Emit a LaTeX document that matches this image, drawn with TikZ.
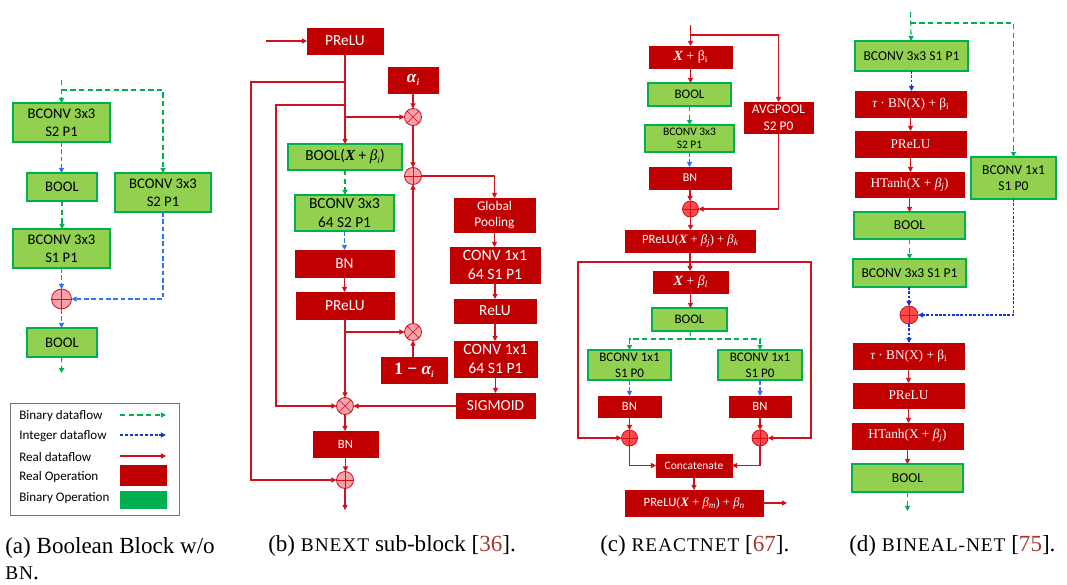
\documentclass[tikz,border=0pt]{standalone}
\usepackage{fontspec}
\newfontfamily\cf{Carlito}
\newfontfamily\capf{Liberation Serif}
\usetikzlibrary{arrows.meta}
\definecolor{rfill}{HTML}{C00000}
\definecolor{rline}{HTML}{D0101C}
\definecolor{gfill}{HTML}{92D050}
\definecolor{gcol}{HTML}{00B050}
\definecolor{bline}{HTML}{2F74EE}
\definecolor{bdark}{HTML}{1438D0}
\definecolor{pinkc}{HTML}{F7A1A8}
\definecolor{redc}{HTML}{FF4A4A}
\definecolor{citec}{HTML}{A33A2E}
\newcommand\mysc[1]{{\fontsize{14.5}{15}\selectfont\addfontfeature{LetterSpace=5}#1}}
\newcommand\bX{{\capf\bfseries\itshape X}}
\newcommand\sbs[1]{\raisebox{-0.35ex}{\fontsize{7}{8}\selectfont #1}}
\newcommand\bx[7]{\node[#2, minimum width={(#5-(#3))*0.75pt}, minimum height={(#6-(#4))*0.75pt}] (#1) at ({(#3+#5)/2},{(#4+#6)/2}) {#7};}
\newcommand\vcon[3]{\draw[#1] (#2.south) -- (#2.south |- #3.north);}
\tikzset{
 box/.style={rectangle, inner sep=0pt, outer sep=0pt, align=center},
 rbox/.style={box, fill=rfill, draw=rfill, line width=0.5pt, text=white},
 gbox/.style={box, fill=gfill, draw=gcol, line width=1pt, text=black},
 gboxt/.style={gbox, line width=1.6pt},
 tip/.style={-{Triangle[length=3.8pt,width=3.8pt]}},
 rarr/.style={tip, draw=rline, line width=0.8pt},
 garr/.style={tip, draw=gcol, line width=0.8pt, dash pattern=on 4pt off 2.5pt},
 gdash/.style={draw=gcol, line width=0.8pt, dash pattern=on 4pt off 2.5pt},
 barr/.style={tip, draw=bline, line width=0.8pt, dash pattern=on 3.5pt off 2pt},
 bdarr/.style={tip, draw=bdark, line width=0.8pt, dash pattern=on 2pt off 1.2pt},
 pc/.style={circle, inner sep=0pt, outer sep=0pt, draw=rline, line width=0.6pt, minimum size=#1},
 plusc/.style={pc=#1, path picture={\draw[rline,line width=0.5pt] (path picture bounding box.north)--(path picture bounding box.south) (path picture bounding box.west)--(path picture bounding box.east);}},
 timesc/.style={pc=#1, path picture={\draw[rline,line width=0.5pt] (path picture bounding box.north west)--(path picture bounding box.south east) (path picture bounding box.south west)--(path picture bounding box.north east);}},
 fa/.style={font=\cf\fontsize{11}{13.5}\selectfont},
 fb/.style={font=\cf\fontsize{11.5}{13.7}\selectfont},
 fbl/.style={font=\cf\fontsize{11.8}{13.7}\selectfont},
 fbs/.style={font=\cf\fontsize{10}{12}\selectfont},
 fbn/.style={font=\cf\fontsize{9.5}{11}\selectfont},
 fal/.style={font=\capf\bfseries\fontsize{13}{14}\selectfont},
 fc/.style={font=\cf\fontsize{9.8}{12}\selectfont},
 fcs/.style={font=\cf\fontsize{8.6}{9.6}\selectfont},
 fcbn/.style={font=\cf\fontsize{9}{11}\selectfont},
 fcx/.style={font=\capf\fontsize{10.5}{12}\selectfont},
 fcav/.style={font=\cf\fontsize{10}{12.5}\selectfont},
 fcp/.style={font=\cf\fontsize{9.5}{11}\selectfont},
 fcc/.style={font=\cf\fontsize{8.6}{10}\selectfont},
 fd/.style={font=\cf\fontsize{10.2}{12.5}\selectfont},
 fds/.style={font=\capf\fontsize{10}{11}\selectfont},
 legt/.style={anchor=west, inner sep=0pt, font=\cf\fontsize{9.8}{11}\selectfont},
 capt/.style={anchor=base west, inner sep=0pt, font=\capf\fontsize{17.3}{20}\selectfont},
}
\begin{document}
\begin{tikzpicture}[x=0.75pt,y=-0.75pt]
\useasboundingbox (0,0) rectangle (1067,585);
% ---------------- (a)
\bx{a1}{gbox,fa}{13}{103}{110}{142}{BCONV 3x3\\S2 P1}
\bx{a2}{gbox,fa}{27}{173}{97}{201}{BOOL}
\bx{a3}{gbox,fa}{13}{229}{110}{268}{BCONV 3x3\\S1 P1}
\bx{a4}{gbox,fa}{115}{173}{211}{212}{BCONV 3x3\\S2 P1}
\node[plusc=15pt, fill=pinkc] (ap) at (61.5,299) {};
\bx{a5}{gbox,fa}{27}{328}{97}{357}{BOOL}
\coordinate (ain) at (61.5,80);
\coordinate (aj) at (61.5,90);
\coordinate (aout) at (61.5,373);
\draw[garr] (ain) -- (a1);
\draw[garr] (aj) -| (a4);
\vcon{barr}{a1}{a2}
\vcon{garr}{a2}{a3}
\vcon{barr}{a3}{ap}
\draw[barr] (a4) |- (ap);
\vcon{barr}{ap}{a5}
\draw[garr] (a5) -- (aout);
% legend
\bx{leg}{box, draw=black!55, line width=0.6pt}{10}{403}{179}{515}{}
\node[legt] (lt1) at (19,416) {Binary dataflow};
\node[legt] (lt2) at (19,436) {Integer dataflow};
\node[legt] (lt3) at (19,457) {Real dataflow};
\node[legt] (lt4) at (19,477) {Real Operation};
\node[legt] (lt5) at (19,498) {Binary Operation};
\coordinate (l1a) at (120,415); \coordinate (l1b) at (166,415);
\coordinate (l2a) at (120,435); \coordinate (l2b) at (166,435);
\coordinate (l3a) at (120,456); \coordinate (l3b) at (166,456);
\draw[tip, draw=gcol, line width=0.8pt, dash pattern=on 4pt off 2.5pt] (l1a) -- (l1b);
\draw[tip, draw=bdark, line width=0.8pt, dash pattern=on 2.5pt off 1.2pt] (l2a) -- (l2b);
\draw[rarr] (l3a) -- (l3b);
\bx{lr}{box, fill=rfill}{120}{465}{167}{486}{}
\bx{lg}{box, fill=gcol}{120}{491}{167}{509}{}
\node[capt] (capa) at (5,553) {(a) Boolean Block w/o};
\node[capt] (capa2) at (5,579) {\mysc{BN}.};
% ---------------- (b)
\bx{b1}{rbox,fb}{307}{28}{383}{54}{PReLU}
\bx{balpha}{rbox,fal}{388}{67}{438}{93}{\itshape α\sbs{i}}
\bx{b2}{gboxt,fb}{288}{144}{402}{170}{BOOL({\bX} + {\capf\itshape β\sbs{i}})}
\bx{b3}{gboxt,fb}{295}{195}{394}{231}{BCONV 3x3\\64 S2 P1}
\bx{b4}{rbox,fb}{295}{250}{394}{277}{BN}
\bx{b5}{rbox,fb}{296}{292}{394}{319}{PReLU}
\bx{b1ma}{rbox,fal}{381}{357}{447}{383}{1 − {\itshape α\sbs{i}}}
\bx{bgp}{rbox,fbs}{454}{198}{535}{232}{Global\\Pooling}
\bx{bc1}{rbox,fbl}{450}{247}{540}{283}{CONV 1x1\\64 S1 P1}
\bx{brelu}{rbox,fb}{454}{299}{536}{323}{ReLU}
\bx{bc2}{rbox,fbl}{454}{341}{537}{377}{CONV 1x1\\64 S1 P1}
\bx{bsig}{rbox,fb}{456}{393}{535}{418}{SIGMOID}
\bx{bbn}{rbox,fbn}{313}{431}{378}{457}{BN}
\node[timesc=12.75pt, fill=pinkc] (bm1) at (413,117) {};
\node[plusc=12.75pt, fill=pinkc] (bp1) at (413,176) {};
\node[timesc=12.75pt, fill=pinkc] (bm3) at (413,332) {};
\node[timesc=12.75pt, fill=pinkc] (bm2) at (345,406) {};
\node[plusc=12.75pt, fill=pinkc] (bp2) at (345,480) {};
\coordinate (bin) at (266,41);
\coordinate (bj1) at (345,82); \coordinate (bl1) at (251,82);
\coordinate (bj2) at (345,105); \coordinate (bl2) at (276,105);
\coordinate (bj3) at (345,117);
\coordinate (bj4) at (345,332);
\coordinate (bout) at (345,510);
\draw[rarr] (bin) -- (b1);
\vcon{rarr}{b1}{b2}
\draw[rarr] (bj1) -- (bl1) |- (bp2);
\draw[rarr] (bj2) -- (bl2) |- (bm2);
\draw[rarr] (bj3) -- (bm1);
\draw[rarr] (balpha.south -| bm1) -- (bm1);
\draw[rarr] (bm1) -- (bp1);
\draw[rarr] (bp1) -| (bgp);
\vcon{rarr}{bgp}{bc1}
\vcon{rarr}{bc1}{brelu}
\vcon{rarr}{brelu}{bc2}
\vcon{rarr}{bc2}{bsig}
\draw[rarr] (bsig.west |- bm2) -- (bm2);
\vcon{garr}{b2}{b3}
\vcon{barr}{b3}{b4}
\vcon{rarr}{b4}{b5}
\vcon{rarr}{b5}{bm2}
\draw[rarr] (bj4) -- (bm3);
\draw[rarr] (bm3) -- (bp1);
\draw[rarr] (b1ma.north -| bm3) -- (bm3);
\vcon{rarr}{bm2}{bbn}
\vcon{rarr}{bbn}{bp2}
\draw[rarr] (bp2) -- (bout);
\node[capt] (capb) at (268,551) {(b) \mysc{BNEXT} sub-block [\textcolor{citec}{36}].};
% ---------------- (c)
\bx{c1}{rbox,fcx}{649}{46}{732}{68}{\bX{} + β\sbs{i}}
\bx{c2}{gbox,fc}{648}{83}{731}{106}{BOOL}
\bx{c3}{gbox,fcs}{645}{125}{734}{152}{BCONV 3x3\\S2 P1}
\bx{c4}{rbox,fcbn}{649}{167}{731}{189}{BN}
\bx{cavg}{rbox,fcav}{744}{102}{813}{133}{AVGPOOL\\S2 P0}
\node[plusc=12pt, fill=redc] (cp1) at (690.5,209) {};
\bx{c5}{rbox,fcp}{625}{230}{755}{252}{PReLU{\capf(\bX{} + {\itshape β\sbs{j}}) + {\itshape β\sbs{k}}}}
\bx{c6}{rbox,fcx}{653}{271}{728}{293}{\bX{} + {\itshape β\sbs{l}}}
\bx{c7}{gbox,fc}{652}{308}{727}{331}{BOOL}
\bx{cbl}{gbox,fc}{588}{350}{671}{380}{BCONV 1x1\\S1 P0}
\bx{cbr}{gbox,fc}{718}{350}{802}{380}{BCONV 1x1\\S1 P0}
\bx{cbnl}{rbox,fcp}{598}{396}{661}{417}{BN}
\bx{cbnr}{rbox,fcp}{729}{396}{791}{417}{BN}
\node[plusc=12pt, fill=redc] (cpl) at (629.5,438) {};
\node[plusc=12pt, fill=redc] (cpr) at (760,438) {};
\bx{ccat}{rbox,fcc}{656}{454}{732}{477}{Concatenate}
\bx{c8}{rbox,fcp}{625}{490}{763}{516}{PReLU{\capf(\bX{} + {\itshape β\sbs{m}}) + {\itshape β\sbs{n}}}}
\coordinate (cin) at (690.5,25);
\coordinate (cj) at (690.5,35);
\coordinate (cj2) at (690.5,262);
\coordinate (cll) at (578,262);
\coordinate (crr) at (811,262);
\coordinate (cj3) at (690.5,339);
\coordinate (cout) at (787,503);
\draw[rarr] (cin) -- (c1);
\draw[rarr] (cj) -| (cavg);
\vcon{rarr}{c1}{c2}
\vcon{garr}{c2}{c3}
\vcon{barr}{c3}{c4}
\vcon{rarr}{c4}{cp1}
\draw[rarr] (cavg) |- (cp1);
\vcon{rarr}{cp1}{c5}
\vcon{rarr}{c5}{c6}
\draw[rarr] (cj2) -- (cll) |- (cpl);
\draw[rarr] (cj2) -- (crr) |- (cpr);
\vcon{rarr}{c6}{c7}
\draw[gdash] (c7) -- (cj3);
\draw[garr] (cj3) -| (cbl);
\draw[garr] (cj3) -| (cbr);
\vcon{barr}{cbl}{cbnl}
\vcon{barr}{cbr}{cbnr}
\vcon{rarr}{cbnl}{cpl}
\vcon{rarr}{cbnr}{cpr}
\draw[rarr] (cpl) |- (ccat);
\draw[rarr] (cpr) |- (ccat);
\draw[rarr] (ccat) -- (c8);
\draw[rarr] (c8) -- (cout);
\node[capt] (capc) at (600,551) {(c) \mysc{REACTNET} [\textcolor{citec}{67}].};
% ---------------- (d)
\bx{d1}{gbox,fd}{855}{41}{968}{71}{BCONV 3x3 S1 P1}
\bx{d2}{rbox,fds}{855}{91}{966}{117}{{\itshape τ} · BN(X) + β\sbs{i}}
\bx{d3}{rbox,fds}{855}{131}{966}{157}{PReLU}
\bx{d4}{rbox,fds}{855}{172}{964}{197}{HTanh(X + {\itshape β\sbs{j}})}
\bx{d5}{gbox,fd}{854}{212}{965}{239}{BOOL}
\bx{d6}{gbox,fd}{853}{259}{966}{287}{BCONV 3x3 S1 P1}
\bx{dr}{gbox,fd}{971}{157}{1056}{199}{BCONV 1x1\\S1 P0}
\node[plusc=13.5pt, fill=redc] (dp) at (909,315) {};
\bx{d7}{rbox,fds}{853}{343}{964}{369}{{\itshape τ} · BN(X) + β\sbs{i}}
\bx{d8}{rbox,fds}{853}{383}{964}{408}{PReLU}
\bx{d9}{rbox,fds}{852}{423}{963}{449}{HTanh(X + {\itshape β\sbs{j}})}
\bx{d10}{gbox,fd}{852}{464}{963}{492}{BOOL}
\coordinate (din) at (910.5,12);
\coordinate (dj) at (910.5,23);
\coordinate (dout) at (907.5,511);
\draw[garr] (din) -- (d1);
\draw[garr] (dj) -| (dr);
\vcon{bdarr}{d1}{d2}
\vcon{rarr}{d2}{d3}
\vcon{rarr}{d3}{d4}
\vcon{rarr}{d4}{d5}
\vcon{garr}{d5}{d6}
\draw[bdarr] (d6.south -| dp) -- (dp);
\draw[bdarr] (dr) |- (dp);
\vcon{bdarr}{dp}{d7}
\vcon{rarr}{d7}{d8}
\vcon{rarr}{d8}{d9}
\vcon{rarr}{d9}{d10}
\draw[garr] (d10) -- (dout);
\node[capt] (capd) at (849,551) {(d) \mysc{BINEAL-NET} [\textcolor{citec}{75}].};
\end{tikzpicture}
\end{document}
